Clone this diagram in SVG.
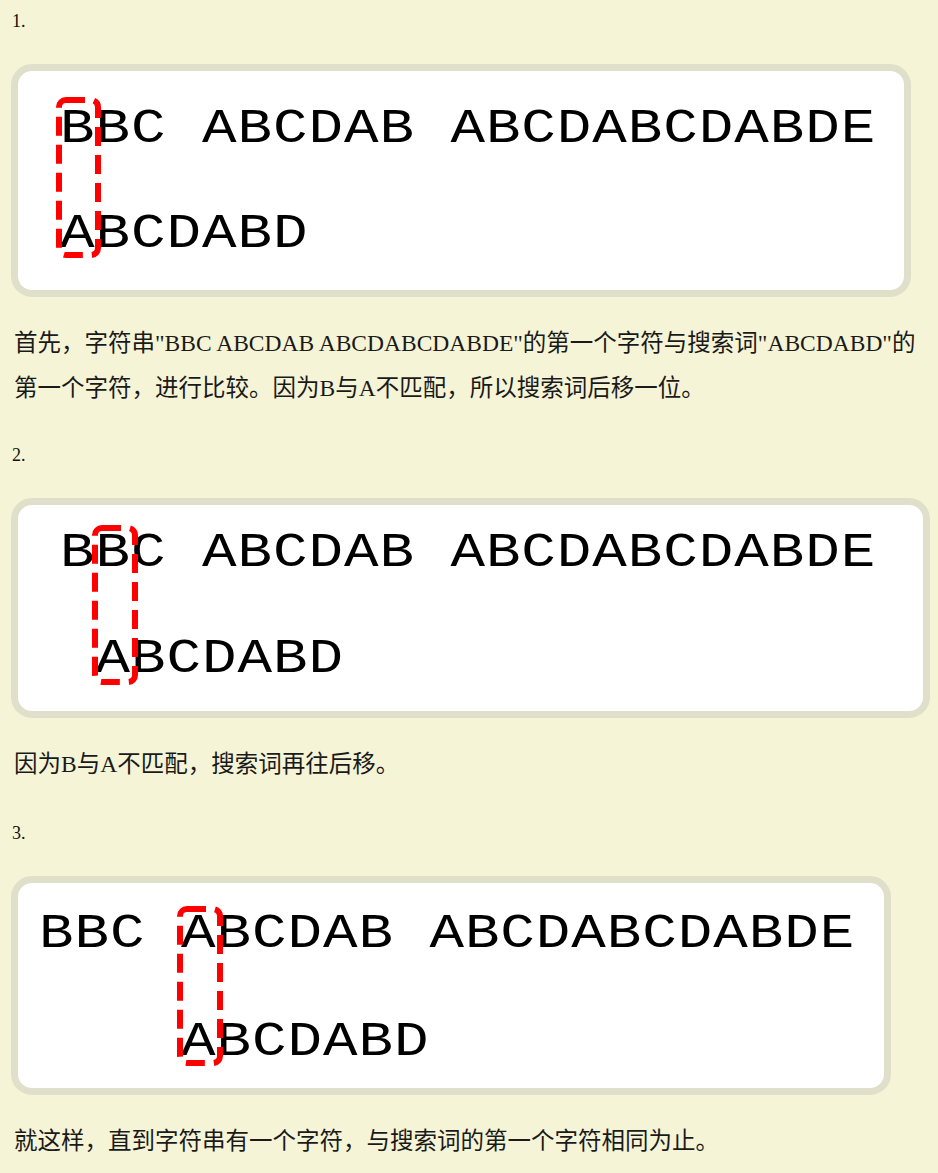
<svg xmlns="http://www.w3.org/2000/svg" width="938" height="1173" viewBox="0 0 938 1173">
  <style>
    .bg { fill: #f5f4d6; }
    .panel { fill: #ffffff; stroke: #e0dfca; stroke-width: 7; }
    .mark { fill: none; stroke: #ff0000; stroke-width: 6; stroke-dasharray: 19 9; }
    .mono { font-family: "Liberation Mono", "DejaVu Sans Mono", monospace; font-size: 48px; fill: #000; letter-spacing: 0.78px; }
    .body { font-family: "Liberation Serif", "Noto Sans CJK SC", serif; font-size: 23.5px; fill: #1a1a1a; }
    .num { font-family: "Liberation Serif", serif; font-size: 18px; fill: #111; }
  </style>
  <rect class="bg" x="0" y="0" width="938" height="1173"/>

  <g id="step1">
    <text class="num" x="12" y="27">1.</text>
    <rect class="panel" x="14.5" y="67.5" width="893" height="226" rx="17.5" ry="17.5"/>
    <text class="mono" transform="translate(60,142) scale(1.2,1)">BBC ABCDAB ABCDABCDABDE</text>
    <text class="mono" transform="translate(60,247) scale(1.2,1)">ABCDABD</text>
    <rect class="mark" x="59" y="100" width="39" height="155" rx="7" ry="7"/>
    <text class="body" x="14" y="351">首先，字符串&quot;BBC ABCDAB ABCDABCDABDE&quot;的第一个字符与搜索词&quot;ABCDABD&quot;的</text>
    <text class="body" x="14" y="396">第一个字符，进行比较。因为B与A不匹配，所以搜索词后移一位。</text>
  </g>

  <g id="step2">
    <text class="num" x="12" y="461">2.</text>
    <rect class="panel" x="14.5" y="501.5" width="912" height="213" rx="17.5" ry="17.5"/>
    <text class="mono" transform="translate(60,566) scale(1.2,1)">BBC ABCDAB ABCDABCDABDE</text>
    <text class="mono" transform="translate(95.5,672) scale(1.2,1)">ABCDABD</text>
    <rect class="mark" x="95" y="528" width="40" height="154" rx="7" ry="7"/>
    <text class="body" x="14" y="772">因为B与A不匹配，搜索词再往后移。</text>
  </g>

  <g id="step3">
    <text class="num" x="12" y="839">3.</text>
    <rect class="panel" x="14.5" y="879.5" width="873" height="212" rx="17.5" ry="17.5"/>
    <text class="mono" transform="translate(39,947) scale(1.2,1)">BBC ABCDAB ABCDABCDABDE</text>
    <text class="mono" transform="translate(181,1055) scale(1.2,1)">ABCDABD</text>
    <rect class="mark" x="180" y="909" width="40" height="154" rx="7" ry="7"/>
    <text class="body" x="14" y="1149">就这样，直到字符串有一个字符，与搜索词的第一个字符相同为止。</text>
  </g>

  <g id="connectors"/>
</svg>
